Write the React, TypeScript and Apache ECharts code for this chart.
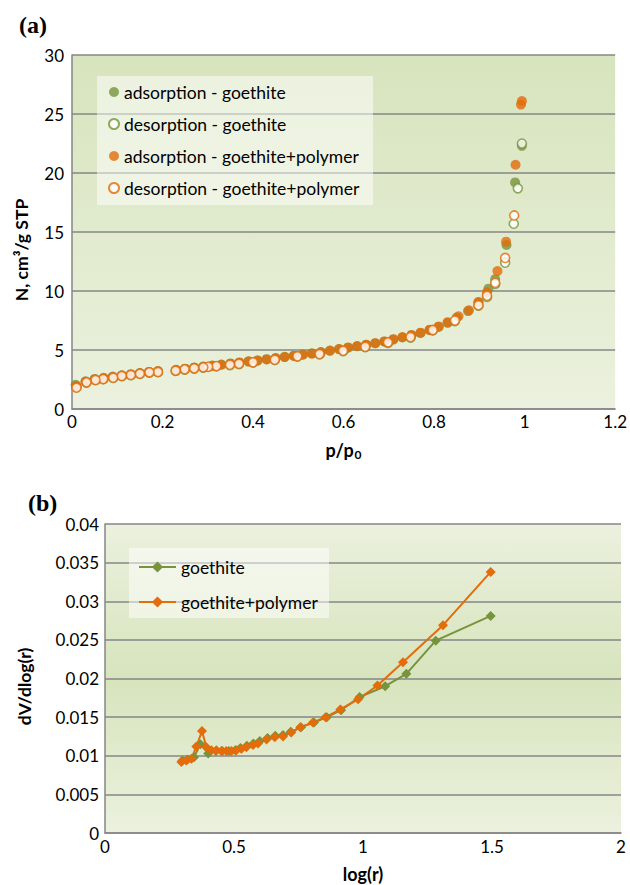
import React, { useEffect, useRef } from "react";
import * as echarts from "echarts";

// (a) N2 isotherms: relative pressure p/p0 vs adsorbed amount
const goethiteAdsX = [0.008, 0.03, 0.05, 0.07, 0.09, 0.11, 0.13, 0.15, 0.17, 0.19, 0.23, 0.25, 0.27, 0.29, 0.31, 0.33, 0.35, 0.37, 0.39, 0.41, 0.43, 0.45, 0.47, 0.49, 0.51, 0.53, 0.55, 0.57, 0.59, 0.61, 0.63, 0.65, 0.67, 0.69, 0.71, 0.73, 0.75, 0.77, 0.79, 0.81, 0.83, 0.85, 0.875, 0.898, 0.92, 0.935, 0.96, 0.979, 0.994];
const goethiteAdsY = [2.05, 2.35, 2.55, 2.65, 2.75, 2.86, 2.95, 3.05, 3.14, 3.22, 3.32, 3.42, 3.51, 3.6, 3.68, 3.77, 3.86, 3.95, 4.04, 4.12, 4.22, 4.32, 4.42, 4.52, 4.62, 4.72, 4.82, 4.95, 5.08, 5.2, 5.32, 5.44, 5.57, 5.72, 5.88, 6.06, 6.25, 6.44, 6.68, 6.95, 7.3, 7.75, 8.3, 9.05, 10.2, 11.0, 13.9, 19.2, 22.3];

const goethiteDesX = [0.994, 0.985, 0.976, 0.957, 0.935, 0.917, 0.898, 0.846, 0.797, 0.748, 0.698, 0.648, 0.599, 0.547, 0.498, 0.448, 0.4, 0.369, 0.349, 0.319, 0.301, 0.29, 0.27, 0.249, 0.229, 0.19, 0.171, 0.15, 0.13, 0.11, 0.091, 0.069, 0.052, 0.032, 0.01];
const goethiteDesY = [22.5, 18.7, 15.7, 12.4, 10.6, 9.5, 8.75, 7.45, 6.65, 6.05, 5.6, 5.25, 4.9, 4.62, 4.44, 4.15, 3.93, 3.81, 3.72, 3.62, 3.56, 3.5, 3.42, 3.34, 3.23, 3.12, 3.08, 2.97, 2.86, 2.78, 2.63, 2.52, 2.44, 2.24, 1.85];

const polymerAdsX = [0.01, 0.03, 0.05, 0.07, 0.09, 0.11, 0.13, 0.15, 0.17, 0.19, 0.23, 0.25, 0.27, 0.29, 0.31, 0.33, 0.35, 0.37, 0.39, 0.41, 0.43, 0.45, 0.47, 0.49, 0.51, 0.53, 0.55, 0.57, 0.59, 0.61, 0.63, 0.65, 0.67, 0.69, 0.71, 0.73, 0.75, 0.77, 0.79, 0.81, 0.83, 0.854, 0.877, 0.898, 0.917, 0.94, 0.959, 0.98, 0.992, 0.994];
const polymerAdsY = [1.95, 2.3, 2.5, 2.6, 2.7, 2.82, 2.92, 3.02, 3.12, 3.2, 3.3, 3.4, 3.5, 3.58, 3.66, 3.75, 3.84, 3.93, 4.02, 4.1, 4.2, 4.3, 4.4, 4.5, 4.6, 4.69, 4.8, 4.94, 5.08, 5.22, 5.34, 5.45, 5.58, 5.73, 5.92, 6.1, 6.28, 6.47, 6.72, 7.0, 7.36, 7.86, 8.36, 9.07, 9.89, 11.69, 14.18, 20.7, 25.8, 26.1];

const polymerDesX = [0.977, 0.957, 0.935, 0.917, 0.898, 0.846, 0.797, 0.748, 0.698, 0.648, 0.599, 0.547, 0.498, 0.448, 0.4, 0.369, 0.349, 0.319, 0.301, 0.29, 0.27, 0.249, 0.229, 0.19, 0.171, 0.15, 0.13, 0.11, 0.091, 0.069, 0.052, 0.032, 0.01];
const polymerDesY = [16.4, 12.8, 10.7, 9.6, 8.8, 7.5, 6.7, 6.1, 5.65, 5.28, 4.94, 4.66, 4.47, 4.18, 3.96, 3.84, 3.75, 3.64, 3.58, 3.53, 3.45, 3.36, 3.25, 3.14, 3.11, 2.99, 2.88, 2.8, 2.65, 2.54, 2.46, 2.26, 1.81];

// (b) pore size distribution: log(r) vs dV/dlog(r)
const goethitePsdX = [0.3, 0.32, 0.345, 0.37, 0.4, 0.43, 0.455, 0.48, 0.505, 0.525, 0.55, 0.575, 0.6, 0.63, 0.66, 0.69, 0.72, 0.76, 0.81, 0.86, 0.915, 0.987, 1.086, 1.168, 1.282, 1.495];
const goethitePsdY = [0.0094, 0.0095, 0.0098, 0.0115, 0.0103, 0.0106, 0.0106, 0.0106, 0.0107, 0.011, 0.0113, 0.0116, 0.0119, 0.0123, 0.0126, 0.0127, 0.0131, 0.0137, 0.0143, 0.015, 0.0159, 0.0176, 0.019, 0.0206, 0.0249, 0.0281];
const polymerPsdX = [0.296, 0.315, 0.335, 0.354, 0.376, 0.393, 0.412, 0.432, 0.451, 0.47, 0.49, 0.509, 0.529, 0.548, 0.574, 0.593, 0.626, 0.658, 0.69, 0.722, 0.757, 0.806, 0.855, 0.912, 0.981, 1.056, 1.155, 1.31, 1.495];
const polymerPsdY = [0.0092, 0.0094, 0.0096, 0.0112, 0.0132, 0.0111, 0.0107, 0.0107, 0.0106, 0.0106, 0.0106, 0.0107, 0.0109, 0.0111, 0.0114, 0.0116, 0.0121, 0.0124, 0.0125, 0.013, 0.0137, 0.0143, 0.015, 0.016, 0.0173, 0.0191, 0.0221, 0.0269, 0.0338];

const isothermNames = [
  "adsorption - goethite",
  "desorption - goethite",
  "adsorption - goethite+polymer",
  "desorption - goethite+polymer",
];
const psdNames = ["goethite", "goethite+polymer"];

const GREEN = "#77933c";
const ORANGE = "#e46c0a";
const GRID_LINE = "#868686";
const FONT = "Lato";
const TICK_SIZE = 17;
const LEGEND_SIZE = 17.5;

const zip = (xs: number[], ys: number[]) => xs.map((x, i) => [x, ys[i]]);

const axisLineStyle = { show: true, lineStyle: { color: GRID_LINE, width: 1.5 } };
const splitLineStyle = { show: true, lineStyle: { color: GRID_LINE, width: 1.5 } };
const tickLabel = (margin: number) => ({ color: "#000", fontSize: TICK_SIZE, margin, fontFamily: FONT });

export default function App() {
  const ref = useRef<HTMLDivElement>(null);

  useEffect(() => {
    if (!ref.current) return;
    const chart = echarts.init(ref.current, undefined, { renderer: "svg" });

    const filled = (color: string) => ({ color });
    const hollow = (color: string) => ({ color: "#ffffff", borderColor: color, borderWidth: 1.6 });

    chart.setOption({
      animation: false,
      textStyle: { fontFamily: FONT },
      grid: [
        {
          left: 72, top: 55, width: 544, height: 354,
          show: true, borderWidth: 0,
          backgroundColor: {
            type: "linear", x: 0, y: 0, x2: 0, y2: 1,
            colorStops: [
              { offset: 0, color: "#d7e4bd" },
              { offset: 1, color: "#ebf1de" },
            ],
          },
        },
        {
          left: 105, top: 524, width: 516, height: 309,
          show: true, borderWidth: 0,
          backgroundColor: {
            type: "linear", x: 0, y: 0, x2: 0, y2: 1,
            colorStops: [
              { offset: 0, color: "#ebf1de" },
              { offset: 0.5, color: "#d7e4bd" },
              { offset: 1, color: "#ebf1de" },
            ],
          },
        },
      ],
      xAxis: [
        {
          gridIndex: 0, type: "value", min: 0, max: 1.2, interval: 0.2,
          axisLine: axisLineStyle, axisTick: { show: false }, splitLine: { show: false },
          axisLabel: tickLabel(4),
          name: "p/p{s|0}", nameLocation: "middle", nameGap: 30,
          nameTextStyle: {
            color: "#000", fontSize: 18, fontWeight: "bold", fontFamily: FONT,
            rich: { s: { fontSize: 12, fontWeight: "bold", fontFamily: FONT, color: "#000", padding: [9, 0, 0, 1] } },
          },
        },
        {
          gridIndex: 1, type: "value", min: 0, max: 2, interval: 0.5,
          axisLine: axisLineStyle, axisTick: { show: false }, splitLine: { show: false },
          axisLabel: tickLabel(5),
          name: "log(r)", nameLocation: "middle", nameGap: 32,
          nameTextStyle: { color: "#000", fontSize: 18, fontWeight: "bold", fontFamily: FONT },
        },
      ],
      yAxis: [
        {
          gridIndex: 0, type: "value", min: 0, max: 30, interval: 5,
          axisLine: axisLineStyle, axisTick: { show: false }, splitLine: splitLineStyle,
          axisLabel: tickLabel(8),
          name: "N, cm³/g STP", nameLocation: "middle", nameGap: 42,
          nameTextStyle: { color: "#000", fontSize: 17.5, fontWeight: "bold", fontFamily: FONT, padding: [0, 36, 0, 0] },
        },
        {
          gridIndex: 1, type: "value", min: 0, max: 0.04, interval: 0.005,
          axisLine: axisLineStyle, axisTick: { show: false }, splitLine: splitLineStyle,
          axisLabel: tickLabel(6),
          name: "dV/dlog(r)", nameLocation: "middle", nameGap: 72,
          nameTextStyle: { color: "#000", fontSize: 17.5, fontWeight: "bold", fontFamily: FONT, padding: [0, 16, 0, 0] },
        },
      ],
      legend: [
        {
          data: isothermNames, orient: "vertical", left: 108, top: 82,
          itemWidth: 10, itemHeight: 10, itemGap: 12, padding: 0,
          textStyle: { color: "#000", fontSize: LEGEND_SIZE, lineHeight: 20, fontFamily: FONT },
        },
        {
          data: psdNames, orient: "vertical", left: 138, top: 557,
          itemWidth: 37, itemHeight: 14, itemGap: 15, padding: 0,
          textStyle: { color: "#000", fontSize: LEGEND_SIZE, lineHeight: 20, fontFamily: FONT },
        },
      ],
      graphic: [
        { type: "rect", z: 1, shape: { x: 97, y: 76, width: 276, height: 129 }, style: { fill: "rgba(255,255,255,0.5)" } },
        { type: "rect", z: 1, shape: { x: 129, y: 548, width: 200, height: 70 }, style: { fill: "rgba(255,255,255,0.5)" } },
        { type: "text", x: 19, y: 13, style: { text: "(a)", fontFamily: "Liberation Serif", fontWeight: "bold", fontSize: 24, fill: "#000" } },
        { type: "text", x: 28, y: 491, style: { text: "(b)", fontFamily: "Liberation Serif", fontWeight: "bold", fontSize: 24, fill: "#000" } },
      ],
      series: [
        {
          name: isothermNames[0], type: "scatter", xAxisIndex: 0, yAxisIndex: 0,
          symbol: "circle", symbolSize: 10, itemStyle: filled(GREEN),
          data: zip(goethiteAdsX, goethiteAdsY),
        },
        {
          name: isothermNames[1], type: "scatter", xAxisIndex: 0, yAxisIndex: 0,
          symbol: "circle", symbolSize: 9, itemStyle: hollow(GREEN),
          data: zip(goethiteDesX, goethiteDesY),
        },
        {
          name: isothermNames[2], type: "scatter", xAxisIndex: 0, yAxisIndex: 0,
          symbol: "circle", symbolSize: 10, itemStyle: filled(ORANGE),
          data: zip(polymerAdsX, polymerAdsY),
        },
        {
          name: isothermNames[3], type: "scatter", xAxisIndex: 0, yAxisIndex: 0,
          symbol: "circle", symbolSize: 9, itemStyle: hollow(ORANGE),
          data: zip(polymerDesX, polymerDesY),
        },
        {
          name: psdNames[0], type: "line", xAxisIndex: 1, yAxisIndex: 1,
          symbol: "diamond", symbolSize: 10, showSymbol: true,
          lineStyle: { color: GREEN, width: 2 }, itemStyle: { color: GREEN },
          data: zip(goethitePsdX, goethitePsdY),
        },
        {
          name: psdNames[1], type: "line", xAxisIndex: 1, yAxisIndex: 1,
          symbol: "diamond", symbolSize: 10, showSymbol: true,
          lineStyle: { color: ORANGE, width: 2 }, itemStyle: { color: ORANGE },
          data: zip(polymerPsdX, polymerPsdY),
        },
      ],
    });

    return () => chart.dispose();
  }, []);

  return (
    <div
      ref={ref}
      style={{ position: "absolute", left: 0, top: 0, width: 630, height: 885, background: "#fff" }}
    />
  );
}
